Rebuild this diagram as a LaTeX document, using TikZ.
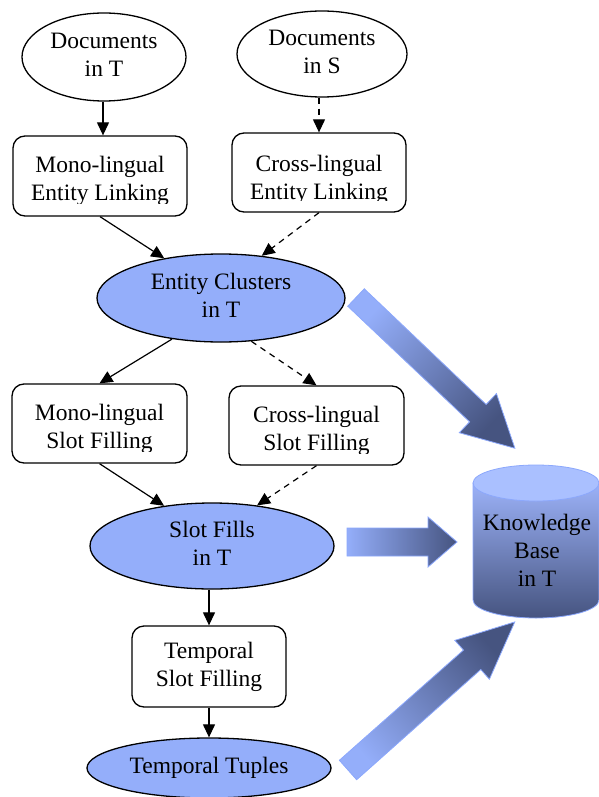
\documentclass[tikz,border=0pt]{standalone}
\usepackage{fontspec}
\setmainfont{Liberation Serif}
\usetikzlibrary{arrows.meta,shapes.geometric}
\definecolor{nodeblue}{RGB}{148,174,250}
\definecolor{deepblue}{RGB}{70,84,128}
\definecolor{edgeblue}{RGB}{140,168,252}
\definecolor{capblue}{RGB}{170,192,255}
\definecolor{bodyblue}{RGB}{156,178,248}
\newcommand{\tl}[1]{\strut#1}

\begin{document}
\begin{tikzpicture}[x=1pt,y=-1pt,
  txt/.style={font=\fontsize{23.5}{28}\selectfont, align=center, inner sep=0pt},
  doc/.style={txt, ellipse, draw, line width=1.3pt},
  result/.style={doc, fill=nodeblue},
  stepbox/.style={draw, line width=1.3pt, rounded corners=12pt, inner sep=0pt},
  flow/.style={line width=1.2pt, -{Triangle[length=13pt,width=12pt]}},
  xflow/.style={flow, dash pattern=on 6pt off 5pt},
  bigarrow/.style={shading=axis, bottom color=nodeblue, top color=deepblue, draw=edgeblue, line width=0.8pt}]
\useasboundingbox (0,0) rectangle (599,797);

% source documents
\node[doc, minimum width=164, minimum height=88] (dT) at (104,57) {\tl{Documents}\\\tl{in T}};
\node[doc, minimum width=170, minimum height=86] (dS) at (322,54) {\tl{Documents}\\\tl{in S}};

% entity linking
\node[stepbox, minimum width=174, minimum height=80] (mEL) at (100,176) {};
\begin{scope}
  \clip (13,136) rectangle (187,203);
  \node[txt] (mELt) at (100,180.4) {\tl{Mono-lingual}\\\tl{Entity Linking}};
\end{scope}
\node[stepbox, minimum width=174, minimum height=79] (cEL) at (319,172.5) {};
\begin{scope}
  \clip (232,133) rectangle (406,200);
  \node[txt] (cELt) at (319,179.4) {\tl{Cross-lingual}\\\tl{Entity Linking}};
\end{scope}

% entity clusters
\node[result, minimum width=248, minimum height=88] (EC) at (221,298) {\tl{Entity Clusters}\\\tl{in T}};

% slot filling
\node[stepbox, minimum width=175, minimum height=79] (mSF) at (99.5,423.5) {};
\begin{scope}
  \clip (12,384) rectangle (187,451);
  \node[txt] (mSFt) at (99.5,428.9) {\tl{Mono-lingual}\\\tl{Slot Filling}};
\end{scope}
\node[stepbox, minimum width=175, minimum height=79] (cSF) at (316.5,425.5) {};
\begin{scope}
  \clip (229,386) rectangle (404,453);
  \node[txt] (cSFt) at (316.5,430.4) {\tl{Cross-lingual}\\\tl{Slot Filling}};
\end{scope}

% slot fills
\node[result, minimum width=244, minimum height=86] (SF) at (212,546) {\tl{Slot Fills}\\\tl{in T}};

% temporal stage
\node[stepbox, minimum width=154, minimum height=81, txt] (tSF) at (209,666.5) {\tl{Temporal}\\\tl{Slot Filling}};
\node[result, minimum width=244, minimum height=60] (TT) at (209,768) {\tl{Temporal Tuples}};

% connectors
\draw[flow] (dT.south -| 103,0) -- (103,0 |- mEL.north);
\draw[xflow] (dS.south -| cEL.north) -- (cEL.north);
\draw[flow] (mEL.south) -- (EC.145);
\draw[xflow] (cEL.south) -- (EC.46);
\draw[flow] (EC.220) -- (mSF.north);
\draw[xflow] (EC.-55) -- (cSF.north);
\draw[flow] (mSF.south) -- (SF.140);
\draw[xflow] (cSF.south) -- (SF.42);
\draw[flow] (SF.south -| tSF.north) -- (tSF.north);
\draw[flow] (tSF.south) -- (TT.north);

% knowledge base cylinder
\shadedraw[top color=bodyblue, bottom color=deepblue, draw=edgeblue, line width=0.8pt]
  (473,483) -- (473,600) arc[start angle=180, end angle=0, x radius=63, y radius=18] -- (599,483) -- cycle;
\filldraw[fill=capblue, draw=edgeblue, line width=0.8pt] (536,483) ellipse[x radius=63, y radius=18];
\node[txt] (KB) at (537,552.4) {\tl{Knowledge}\\\tl{Base}\\\tl{in T}};

% wide arrows into the knowledge base
\begin{scope}[shift={(356,297.5)}, rotate=-43.5]
  \shadedraw[bigarrow, shading angle=226.4] (0,-12) -- (168,-12) -- (168,-27) -- (219,0) -- (168,27) -- (168,12) -- (0,12) -- cycle;
\end{scope}
\begin{scope}[shift={(347,542)}]
  \shadedraw[bigarrow, shading angle=270] (0,-14) -- (81,-14) -- (81,-25) -- (110,0) -- (81,25) -- (81,14) -- (0,14) -- cycle;
\end{scope}
\begin{scope}[shift={(348,770)}, rotate=41.6]
  \shadedraw[bigarrow, shading angle=-48.4] (0,-13) -- (166,-13) -- (166,-26) -- (223,0) -- (166,26) -- (166,13) -- (0,13) -- cycle;
\end{scope}
\end{tikzpicture}
\end{document}
